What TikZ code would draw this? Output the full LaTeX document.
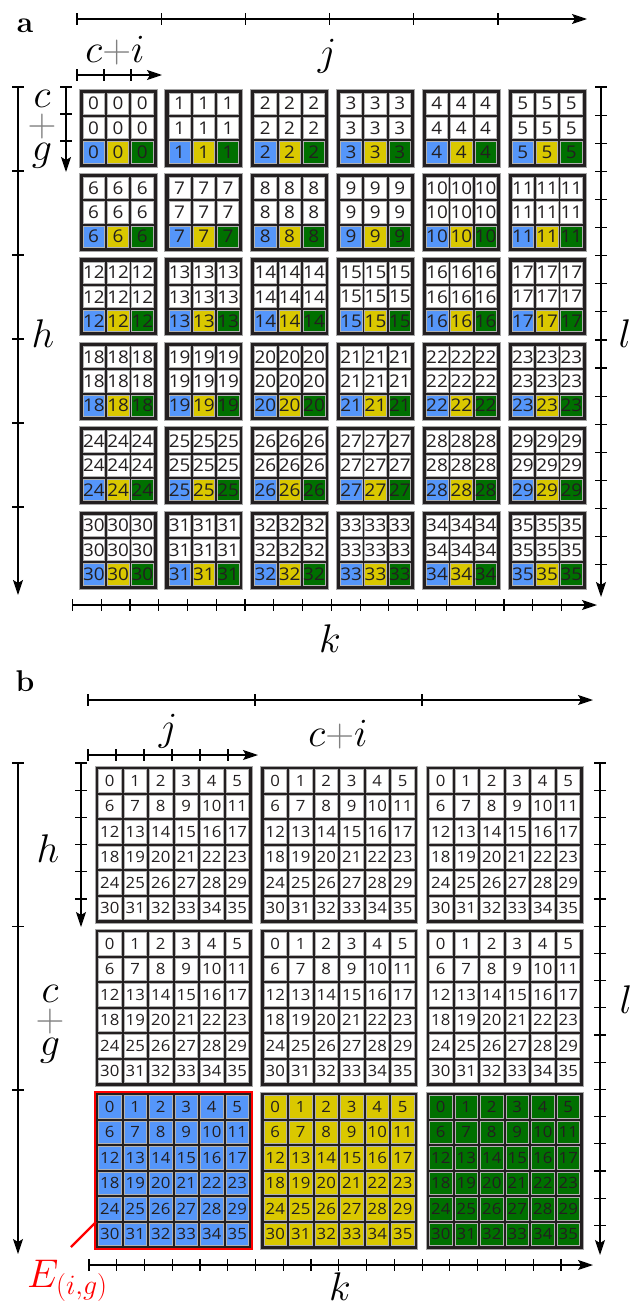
\RequirePackage{fix-cm}
\documentclass[tikz,border=0pt]{standalone}
\usepackage{fontspec}
\newfontfamily\digA[FakeStretch=1.08]{Open Sans}
\newfontfamily\digB[FakeStretch=1.08]{Open Sans}
\usetikzlibrary{arrows.meta}
\definecolor{cblue}{RGB}{85,150,250}
\definecolor{cyel}{RGB}{218,200,0}
\definecolor{cgrn}{RGB}{0,112,0}
\definecolor{frm}{RGB}{35,31,32}
\definecolor{txt}{RGB}{35,31,32}
\begin{document}
\begin{tikzpicture}[x=1pt,y=-1pt,
  axisline/.style={line width=1.3pt, draw=black},
  arrowline/.style={axisline, -{Stealth[length=15pt,width=10pt,inset=3pt]}},
  tickline/.style={line width=1.2pt},
  blockbox/.style={fill=frm, draw=gray!70, line width=0.8pt, inner sep=0pt, outer sep=0pt, anchor=north west},
  cellA/.style={draw=gray!60, line width=0.5pt, inner sep=0pt, outer sep=0pt, text=txt, anchor=north west,
     minimum width=21.3pt, minimum height=21.3pt, font=\digA\fontsize{17.5}{17.5}\selectfont},
  cellB/.style={draw=gray!60, line width=0.5pt, inner sep=0pt, outer sep=0pt, text=txt, anchor=north west,
     minimum width=22.5pt, minimum height=22.5pt, font=\digB\fontsize{15.5}{15.5}\selectfont},
  lab/.style={font=\fontsize{40}{40}\selectfont, inner sep=0pt, anchor=base},
  stack/.style={font=\fontsize{40}{27}\selectfont, inner sep=0pt, anchor=north, align=center},
  panel/.style={font=\fontsize{30}{30}\selectfont\bfseries, inner sep=0pt, anchor=base},
]
\useasboundingbox (0,0) rectangle (641,1309);

% ---------------- panel a ----------------
\node[panel] (pa) at (25,32) {a};

\foreach \r in {0,...,5}{
  \foreach \c in {0,...,5}{
    \pgfmathsetmacro\xo{79+85.8*\c}
    \pgfmathsetmacro\yo{89+84.4*\r}
    \pgfmathtruncatemacro\n{6*\r+\c}
    \node[blockbox, minimum width=78pt, minimum height=78pt] (blkA-\r-\c) at (\xo,\yo) {};
    \foreach \s in {0,1}{
      \foreach \q in {0,1,2}{
        \node[cellA, fill=white] (cA-\n-\s-\q) at ({\xo+4+24.3*\q},{\yo+4+24.3*\s}) {\n};
      }
    }
    \foreach \q/\fc in {0/cblue,1/cyel,2/cgrn}{
      \node[cellA, fill=\fc] (cA-\n-2-\q) at ({\xo+4+24.3*\q},{\yo+4+24.3*2}) {\n};
    }
  }
}

% top axis j
\coordinate (aTopS) at (77,19);
\coordinate (aTopE) at (587,19);
\draw[arrowline] (aTopS) -- (aTopE);
\foreach \i in {0,...,5} \draw[tickline] ({77+84.2*\i},13) -- ({77+84.2*\i},25);
% small c+i axis
\coordinate (aSmS) at (77,75);
\coordinate (aSmE) at (162,75);
\draw[arrowline] (aSmS) -- (aSmE);
\foreach \i in {0,1,2} \draw[tickline] ({77+27*\i},69) -- ({77+27*\i},81);
% left axis h
\coordinate (aLeS) at (18,87);
\coordinate (aLeE) at (18,595);
\draw[arrowline] (aLeS) -- (aLeE);
\foreach \i in {0,...,5} \draw[tickline] (12,{87+84*\i}) -- (24,{87+84*\i});
% small c+g axis
\coordinate (aSvS) at (66,87);
\coordinate (aSvE) at (66,172);
\draw[arrowline] (aSvS) -- (aSvE);
\foreach \i in {0,1,2} \draw[tickline] (60,{87+27*\i}) -- (72,{87+27*\i});
% right axis l
\coordinate (aRiS) at (601,87);
\coordinate (aRiE) at (601,597);
\draw[arrowline] (aRiS) -- (aRiE);
\foreach \i in {0,...,17} \draw[tickline] (595,{87+28.1*\i}) -- (607,{87+28.1*\i});
% bottom axis k
\coordinate (aBoS) at (72,605);
\coordinate (aBoE) at (597,605);
\draw[arrowline] (aBoS) -- (aBoE);
\foreach \i in {0,...,17} \draw[tickline] ({72.4+28.77*\i},599) -- ({72.4+28.77*\i},611);

\node[lab] (ja) at (327,65) {$j$};
\node[lab] (cia) at (115,62) {$c{\color{gray}+}i$};
\node[stack] (cga) at (42,90) {$c$\\[2pt]${\color{gray}+}$\\[-3pt]$g$};
\node[lab] (ha) at (43,347) {$h$};
\node[lab] (la) at (625,347) {$l$};
\node[lab] (ka) at (330,652) {$k$};

% ---------------- panel b ----------------
\node[panel] (pb) at (25,691) {b};

\foreach \R in {0,1,2}{
  \foreach \C/\colC in {0/cblue,1/cyel,2/cgrn}{
    \pgfmathsetmacro\xo{95+165.5*\C}
    \pgfmathsetmacro\yo{766+163*\R}
    \ifnum\R=2 \edef\fc{\colC}\else\def\fc{white}\fi
    \node[blockbox, minimum width=157pt, minimum height=157pt] (blkB-\R-\C) at (\xo,\yo) {};
    \foreach \s in {0,...,5}{
      \foreach \q in {0,...,5}{
        \pgfmathtruncatemacro\n{6*\s+\q}
        \node[cellB, fill=\fc] (cB-\R-\C-\n) at ({\xo+3.5+25.5*\q},{\yo+3.5+25.5*\s}) {\n};
      }
    }
  }
}
\draw[red, line width=2pt] (blkB-2-0.north west) rectangle (blkB-2-0.south east);

% top axis c+i
\coordinate (bTopS) at (88,700);
\coordinate (bTopE) at (593,700);
\draw[arrowline] (bTopS) -- (bTopE);
\foreach \i in {0,1,2} \draw[tickline] ({88+167*\i},694) -- ({88+167*\i},706);
% small j axis
\coordinate (bSmS) at (88,755);
\coordinate (bSmE) at (258,755);
\draw[arrowline] (bSmS) -- (bSmE);
\foreach \i in {0,...,5} \draw[tickline] ({88+28*\i},749) -- ({88+28*\i},761);
% left axis
\coordinate (bLeS) at (18,763);
\coordinate (bLeE) at (18,1254);
\draw[arrowline] (bLeS) -- (bLeE);
\foreach \i in {0,1,2} \draw[tickline] (12,{763+163.5*\i}) -- (24,{763+163.5*\i});
% small h axis
\coordinate (bSvS) at (81,763);
\coordinate (bSvE) at (81,927);
\draw[arrowline] (bSvS) -- (bSvE);
\foreach \i in {0,...,5} \draw[tickline] (75,{763+27.2*\i}) -- (87,{763+27.2*\i});
% right axis l
\coordinate (bRiS) at (600,763);
\coordinate (bRiE) at (600,1255);
\draw[arrowline] (bRiS) -- (bRiE);
\foreach \i in {0,...,17} \draw[tickline] (594,{763+27.2*\i}) -- (606,{763+27.2*\i});
% bottom axis k
\coordinate (bBoS) at (89,1265);
\coordinate (bBoE) at (593,1265);
\draw[arrowline] (bBoS) -- (bBoE);
\foreach \i in {0,...,17} \draw[tickline] ({89+27.76*\i},1259) -- ({89+27.76*\i},1271);

\node[lab] (jb) at (168,740) {$j$};
\node[lab] (cib) at (338,746) {$c{\color{gray}+}i$};
\node[lab] (hb) at (48,862) {$h$};
\node[stack] (cgb) at (50,985) {$c$\\[2pt]${\color{gray}+}$\\[-3pt]$g$};
\node[lab] (lb) at (626,1013) {$l$};
\node[lab] (kb) at (340,1300) {$k$};

\node[lab, text=red, anchor=base west] (elab) at (27,1287) {$E_{(i,g)}$};
\coordinate (redS) at (71,1247);
\coordinate (redE) at (96,1222);
\draw[red, line width=2.2pt] (redS) -- (redE);
\end{tikzpicture}
\end{document}
